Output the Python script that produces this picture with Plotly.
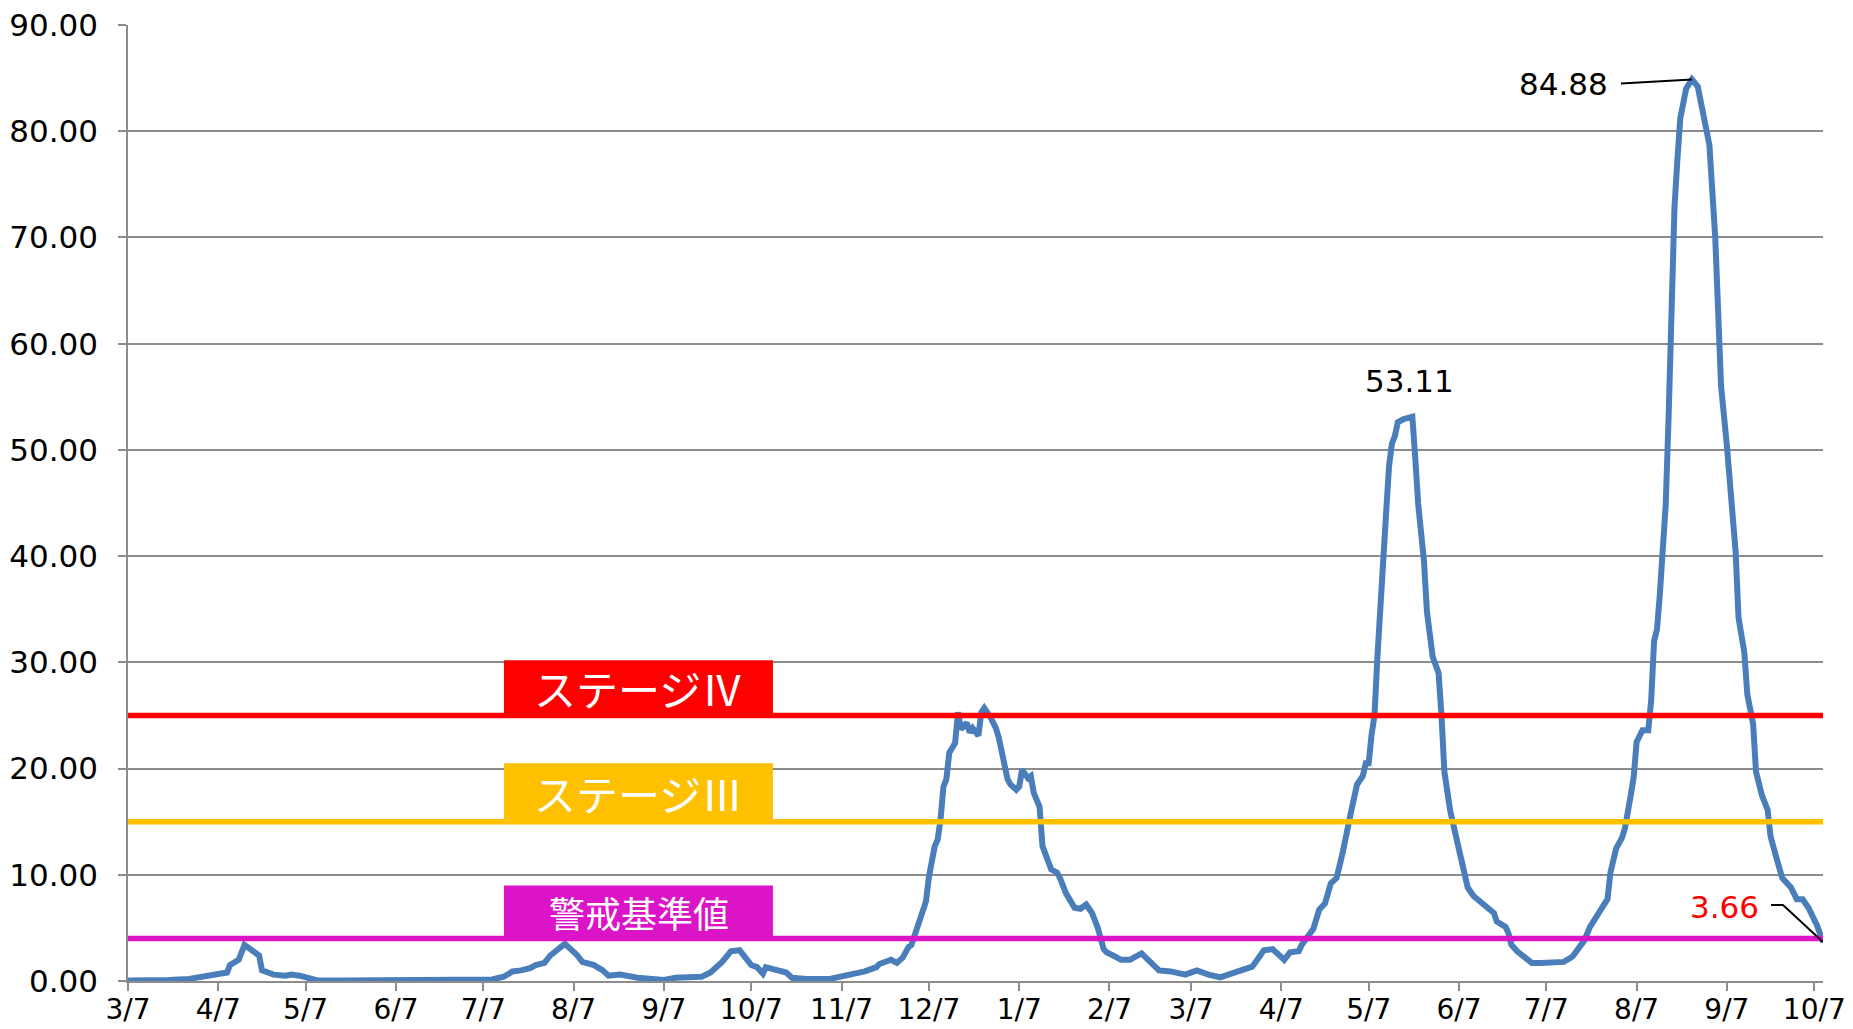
import plotly.graph_objects as go

# ---- data ----
dates = [
    "2020-03-07", "2020-03-14", "2020-03-21", "2020-03-28", "2020-04-01", "2020-04-05",
    "2020-04-08", "2020-04-10", "2020-04-11", "2020-04-14", "2020-04-16", "2020-04-18",
    "2020-04-19", "2020-04-21", "2020-04-22", "2020-04-26", "2020-04-30", "2020-05-02",
    "2020-05-05", "2020-05-08", "2020-05-11", "2020-05-20", "2020-06-01", "2020-06-15",
    "2020-07-01", "2020-07-07", "2020-07-10", "2020-07-14", "2020-07-17", "2020-07-20",
    "2020-07-23", "2020-07-25", "2020-07-28", "2020-07-30", "2020-08-02", "2020-08-04",
    "2020-08-06", "2020-08-08", "2020-08-10", "2020-08-14", "2020-08-17", "2020-08-19",
    "2020-08-23", "2020-08-26", "2020-08-29", "2020-09-03", "2020-09-07", "2020-09-11",
    "2020-09-15", "2020-09-20", "2020-09-23", "2020-09-27", "2020-09-30", "2020-10-03",
    "2020-10-05", "2020-10-07", "2020-10-09", "2020-10-11", "2020-10-12", "2020-10-16",
    "2020-10-19", "2020-10-21", "2020-10-26", "2020-11-03", "2020-11-07", "2020-11-11",
    "2020-11-15", "2020-11-19", "2020-11-20", "2020-11-24", "2020-11-26", "2020-11-28",
    "2020-11-30", "2020-12-01", "2020-12-03", "2020-12-05", "2020-12-06", "2020-12-07",
    "2020-12-09", "2020-12-10", "2020-12-11", "2020-12-12", "2020-12-13", "2020-12-14",
    "2020-12-16", "2020-12-17", "2020-12-18", "2020-12-20", "2020-12-21", "2020-12-22",
    "2020-12-24", "2020-12-25", "2020-12-26", "2020-12-28", "2020-12-30", "2020-12-31",
    "2021-01-02", "2021-01-03", "2021-01-04", "2021-01-06", "2021-01-07", "2021-01-08",
    "2021-01-10", "2021-01-11", "2021-01-12", "2021-01-14", "2021-01-15", "2021-01-16",
    "2021-01-18", "2021-01-20", "2021-01-21", "2021-01-23", "2021-01-24", "2021-01-26",
    "2021-01-28", "2021-01-30", "2021-02-01", "2021-02-03", "2021-02-05", "2021-02-06",
    "2021-02-09", "2021-02-11", "2021-02-14", "2021-02-18", "2021-02-21", "2021-02-24",
    "2021-02-28", "2021-03-05", "2021-03-09", "2021-03-13", "2021-03-17", "2021-03-21",
    "2021-03-24", "2021-03-28", "2021-03-30", "2021-04-01", "2021-04-04", "2021-04-06",
    "2021-04-08", "2021-04-10", "2021-04-13", "2021-04-14", "2021-04-16", "2021-04-18",
    "2021-04-20", "2021-04-22", "2021-04-24", "2021-04-26", "2021-04-28", "2021-04-30",
    "2021-05-01", "2021-05-03", "2021-05-05", "2021-05-06", "2021-05-07", "2021-05-08",
    "2021-05-09", "2021-05-10", "2021-05-11", "2021-05-12", "2021-05-13", "2021-05-14",
    "2021-05-15", "2021-05-16", "2021-05-17", "2021-05-19", "2021-05-21", "2021-05-22",
    "2021-05-23", "2021-05-24", "2021-05-26", "2021-05-27", "2021-05-29", "2021-05-31",
    "2021-06-01", "2021-06-02", "2021-06-04", "2021-06-06", "2021-06-07", "2021-06-08",
    "2021-06-09", "2021-06-10", "2021-06-12", "2021-06-14", "2021-06-16", "2021-06-19",
    "2021-06-20", "2021-06-23", "2021-06-24", "2021-06-25", "2021-06-27", "2021-06-30",
    "2021-07-02", "2021-07-05", "2021-07-07", "2021-07-10", "2021-07-13", "2021-07-16",
    "2021-07-18", "2021-07-20", "2021-07-22", "2021-07-24", "2021-07-27", "2021-07-28",
    "2021-07-29", "2021-07-31", "2021-08-02", "2021-08-03", "2021-08-05", "2021-08-06",
    "2021-08-07", "2021-08-09", "2021-08-11", "2021-08-12", "2021-08-13", "2021-08-14",
    "2021-08-15", "2021-08-17", "2021-08-18", "2021-08-19", "2021-08-20", "2021-08-21",
    "2021-08-22", "2021-08-24", "2021-08-26", "2021-08-28", "2021-08-31", "2021-09-01",
    "2021-09-03", "2021-09-04", "2021-09-05", "2021-09-07", "2021-09-09", "2021-09-10",
    "2021-09-11", "2021-09-13", "2021-09-14", "2021-09-16", "2021-09-17", "2021-09-19",
    "2021-09-21", "2021-09-22", "2021-09-24", "2021-09-26", "2021-09-29", "2021-10-01",
    "2021-10-03", "2021-10-05", "2021-10-08", "2021-10-10",
]
values = [
    0.05, 0.05, 0.1, 0.2, 0.4, 0.6,
    0.7, 0.8, 1.5, 2.0, 3.4, 3.0,
    2.7, 2.4, 1.0, 0.6, 0.5, 0.6,
    0.5, 0.3, 0.05, 0.05, 0.08, 0.05,
    0.05, 0.1, 0.15, 0.4, 0.9, 1.0,
    1.2, 1.5, 1.7, 2.4, 3.0, 3.5,
    3.0, 2.5, 1.8, 1.5, 1.0, 0.5,
    0.6, 0.4, 0.3, 0.2, 0.1, 0.3,
    0.4, 0.4, 0.8, 1.8, 2.8, 2.9,
    2.2, 1.5, 1.3, 0.7, 1.3, 1.0,
    0.8, 0.3, 0.2, 0.2, 0.4, 0.6,
    0.9, 1.3, 1.6, 2.0, 1.7, 2.2,
    3.2, 3.4, 5.0, 6.7, 7.5, 9.8,
    12.7, 13.3, 15.2, 18.3, 19.0, 21.5,
    22.4, 25.3, 23.7, 24.3, 23.4, 23.8,
    23.1, 25.3, 25.7, 24.9, 23.8, 22.9,
    20.2, 19.0, 18.5, 18.0, 18.3, 19.9,
    19.1, 19.3, 17.7, 16.4, 12.7, 12.0,
    10.5, 10.2, 9.7, 8.3, 7.8, 6.9,
    6.8, 7.2, 6.4, 5.0, 3.0, 2.7,
    2.3, 2.0, 2.0, 2.6, 1.8, 1.0,
    0.9, 0.6, 1.0, 0.6, 0.35, 0.7,
    0.9, 1.35, 2.1, 2.9, 3.0, 2.45,
    2.0, 2.7, 2.8, 3.4, 4.2, 4.9,
    6.7, 7.3, 9.2, 9.7, 12.0, 14.3,
    16.0, 18.5, 19.3, 20.5, 20.5, 23.2,
    25.0, 30.5, 34.4, 40.2, 44.1, 48.5,
    50.6, 51.3, 52.6, 52.9, 53.0, 53.11,
    49.2, 44.9, 39.5, 34.8, 30.5, 29.0,
    25.0, 19.7, 16.0, 13.9, 12.4, 11.2,
    10.0, 8.8, 8.0, 7.5, 7.0, 6.4,
    5.6, 5.1, 4.5, 3.4, 2.8, 2.1,
    1.7, 1.7, 1.7, 1.75, 1.8, 2.3,
    3.0, 3.8, 5.1, 6.0, 7.2, 7.7,
    10.2, 12.5, 13.5, 14.4, 17.5, 19.2,
    22.5, 23.6, 23.6, 26.4, 32.0, 33.1,
    36.5, 44.9, 53.2, 64.4, 72.8, 77.3,
    81.2, 84.0, 84.88, 84.2, 80.0, 78.7,
    70.0, 63.3, 56.0, 50.4, 44.3, 40.4,
    34.2, 30.9, 27.0, 24.2, 19.7, 17.5,
    16.1, 13.6, 11.6, 9.7, 8.8, 7.7,
    7.7, 6.9, 5.2, 3.66,
]

threshold_values = [25, 15, 4]
threshold_labels = ["ステージⅣ", "ステージⅢ", "警戒基準値"]
threshold_colors = ["#ff0000", "#ffc000", "#dc14c8"]
label_box_tops = [30.2, 20.5, 9.0]
label_font_sizes = [42, 42, 36]

tick_dates = [
    "2020-03-07", "2020-04-07", "2020-05-07", "2020-06-07", "2020-07-07", "2020-08-07",
    "2020-09-07", "2020-10-07", "2020-11-07", "2020-12-07", "2021-01-07", "2021-02-07",
    "2021-03-07", "2021-04-07", "2021-05-07", "2021-06-07", "2021-07-07", "2021-08-07",
    "2021-09-07", "2021-10-07",
]
y_ticks = [0, 10, 20, 30, 40, 50, 60, 70, 80, 90]

peak1_date, peak1_value = "2021-05-22", 53.11
peak2_date, peak2_value = "2021-08-26", 84.88
last_date, last_value = dates[-1], values[-1]

NUM_FONT = "DejaVu Sans"
CJK_FONT = "Noto Sans CJK JP"
GRID = "#8c8c8c"

fig = go.Figure()

fig.add_trace(go.Scatter(
    x=dates, y=values, mode="lines",
    line=dict(color="#4a7ebb", width=6),
    hoverinfo="x+y", showlegend=False,
))

for v, c in zip(threshold_values, threshold_colors):
    fig.add_trace(go.Scatter(
        x=[dates[0], dates[-1]], y=[v, v], mode="lines",
        line=dict(color=c, width=5.5), showlegend=False, hoverinfo="skip",
    ))

shapes = []
annotations = []
for v, top, lab, c, fs in zip(threshold_values, label_box_tops, threshold_labels,
                              threshold_colors, label_font_sizes):
    shapes.append(dict(type="rect", xref="paper", yref="y",
                       x0=0.2218, x1=0.3805, y0=v, y1=top,
                       fillcolor=c, line=dict(width=0), layer="above"))
    annotations.append(dict(xref="paper", yref="y", x=0.3012, y=(v + top) / 2,
                            xanchor="center", yanchor="middle",
                            text=lab, showarrow=False,
                            font=dict(family=CJK_FONT, size=fs, color="white")))

annotations.append(dict(x=peak1_date, y=peak1_value, text=f"{peak1_value:.2f}",
                        showarrow=False, yshift=36, xshift=-3,
                        font=dict(family=NUM_FONT, size=31, color="black")))
annotations.append(dict(x=peak2_date, y=peak2_value, text=f"{peak2_value:.2f}",
                        showarrow=False, xanchor="right", xshift=-82, yshift=-5,
                        font=dict(family=NUM_FONT, size=31, color="black")))
annotations.append(dict(x=last_date, y=last_value, text=f"{last_value:.2f}",
                        showarrow=False, xanchor="right", xshift=-62, yshift=35,
                        font=dict(family=NUM_FONT, size=31, color="#ff0000")))

shapes.append(dict(type="path", xref="x", yref="y", xsizemode="pixel", ysizemode="pixel",
                   xanchor=peak2_date, yanchor=peak2_value,
                   path="M-71,-4 L0,0", line=dict(color="black", width=2)))
shapes.append(dict(type="path", xref="x", yref="y", xsizemode="pixel", ysizemode="pixel",
                   xanchor=last_date, yanchor=last_value,
                   path="M-52,37 L-40,37 L0,0", line=dict(color="black", width=2)))

fig.update_layout(
    width=1853, height=1029,
    margin=dict(l=128, r=30, t=25, b=48, autoexpand=False),
    paper_bgcolor="white", plot_bgcolor="white",
    shapes=shapes, annotations=annotations,
    showlegend=False,
)
fig.update_xaxes(
    type="date", range=[dates[0], dates[-1]], automargin=False,
    tickvals=tick_dates, tickformat="%-m/%-d",
    showgrid=False, showline=True, linecolor=GRID, linewidth=1.5,
    ticks="outside", ticklen=8, tickcolor=GRID, tickwidth=1.5,
    ticklabelstandoff=-5,
    tickfont=dict(family=NUM_FONT, size=28, color="black"),
    zeroline=False,
)
fig.update_yaxes(
    range=[0, 90], tickvals=y_ticks, tickformat=".2f", automargin=False,
    showgrid=True, gridcolor=GRID, gridwidth=1.5,
    showline=True, linecolor=GRID, linewidth=1.5,
    ticks="outside", ticklen=8, tickcolor=GRID, tickwidth=1.5,
    ticklabelstandoff=14,
    tickfont=dict(family=NUM_FONT, size=31, color="black"),
    zeroline=False,
)

fig.write_html(
    "out.html",
    config={"displayModeBar": False},
    post_script="document.body.style.margin='0px';document.body.style.overflow='hidden';",
)
